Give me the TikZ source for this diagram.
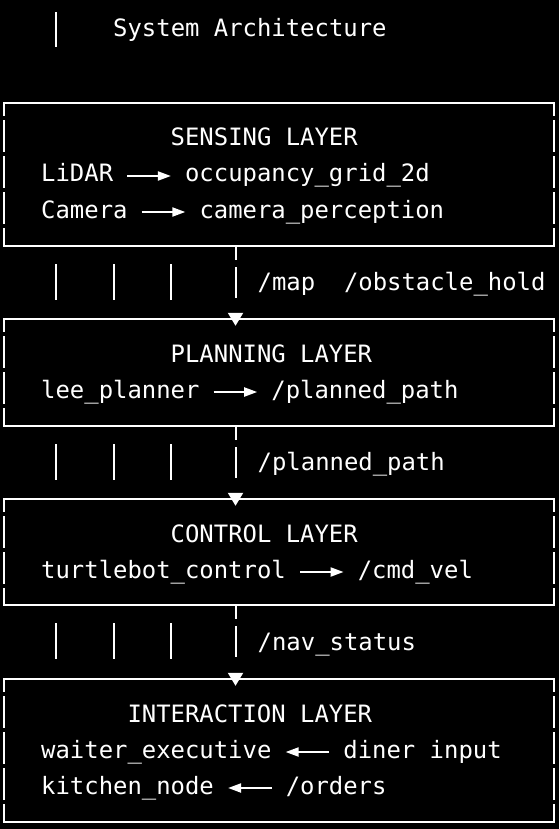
\documentclass[tikz,border=0pt]{standalone}
\usepackage{fontspec}
\newfontfamily\termfont{DejaVu Sans Mono}
\usetikzlibrary{arrows.meta}

\tikzset{
  txt/.style={anchor=base west, inner sep=0pt, text height=17pt, text depth=5pt,
    text=white, font={\termfont\fontsize{23.9pt}{36pt}\selectfont}},
  layer/.style={inner sep=0pt, minimum width=549.5pt},
  rim/.style={draw=white, line width=2.1pt, line cap=rect},
  boxside/.style={dash pattern=on 30pt off 6pt, dash phase=17.5pt},
  flow/.style={draw=white, line width=2pt, -{Triangle[length=13pt,width=9pt]},
    shorten <=14pt, shorten >=14pt},
  link/.style={draw=white, line width=2pt, dash pattern=on 14pt off 7pt on 31pt off 200pt,
    -{Triangle[length=13pt,width=15pt]}, shorten >=-7pt},
  pipe/.style={draw=white, line width=2pt}
}

\begin{document}
\begin{tikzpicture}[x=1pt,y=-1pt]
\fill[black] (0,0) rectangle (559,829);
\useasboundingbox (0,0) rectangle (559,829);
% title
\draw[pipe] (56,12.5) -- (56,47.5);
\node[txt] (title) at (113,37) {System Architecture};
% layer boxes
\node[layer, minimum height=143pt] (sense) at (278.75,174.5) {};
\node[layer, minimum height=107pt] (plan) at (278.75,372.5) {};
\node[layer, minimum height=106pt] (ctrl) at (278.75,552) {};
\node[layer, minimum height=143pt] (inter) at (278.75,750.5) {};
\foreach \b in {sense,plan,ctrl,inter}{
  \draw[rim] (\b.north west) -- (\b.north east);
  \draw[rim] (\b.south west) -- (\b.south east);
  \draw[rim,boxside] (\b.north west) -- (\b.south west);
  \draw[rim,boxside] (\b.north east) -- (\b.south east);
}
% sensing
\node[txt] (senseT) at (170.5,146) {SENSING LAYER};
\node[txt] (lidar) at (41,182) {LiDAR};
\node[txt] (grid) at (184.9,182) {occupancy\_grid\_2d};
\node[txt] (camera) at (41,218) {Camera};
\node[txt] (percep) at (199.3,218) {camera\_perception};
\draw[flow] (lidar) -- (grid);
\draw[flow] (camera) -- (percep);
% planning
\node[txt] (planT) at (170.5,362) {PLANNING LAYER};
\node[txt] (lee) at (41,398) {lee\_planner};
\node[txt] (path) at (271.2,398) {/planned\_path};
\draw[flow] (lee) -- (path);
% control
\node[txt] (ctrlT) at (170.5,542) {CONTROL LAYER};
\node[txt] (turtle) at (41,578) {turtlebot\_control};
\node[txt] (cmd) at (357.6,578) {/cmd\_vel};
\draw[flow] (turtle) -- (cmd);
% interaction
\node[txt] (interT) at (127.3,722) {INTERACTION LAYER};
\node[txt] (waiter) at (41,758) {waiter\_executive};
\node[txt] (diner) at (343.2,758) {diner input};
\node[txt] (kitchen) at (41,794) {kitchen\_node};
\node[txt] (orders) at (285.6,794) {/orders};
\draw[flow] (diner) -- (waiter);
\draw[flow] (orders) -- (kitchen);
% topics between layers
\coordinate (tap) at (235.5,0);
\draw[link] (sense.south -| tap) -- (plan.north -| tap);
\draw[link] (plan.south -| tap) -- (ctrl.north -| tap);
\draw[link] (ctrl.south -| tap) -- (inter.north -| tap);
\foreach \y in {264,444,623}
  \foreach \x in {56,114,171}
    \draw[pipe] (\x,\y) -- (\x,\y+36);
\node[txt] (mapT) at (257.5,290) {/map\ \ /obstacle\_hold};
\node[txt] (pathT) at (257.5,470) {/planned\_path};
\node[txt] (navT) at (257.5,650) {/nav\_status};
\end{tikzpicture}
\end{document}
